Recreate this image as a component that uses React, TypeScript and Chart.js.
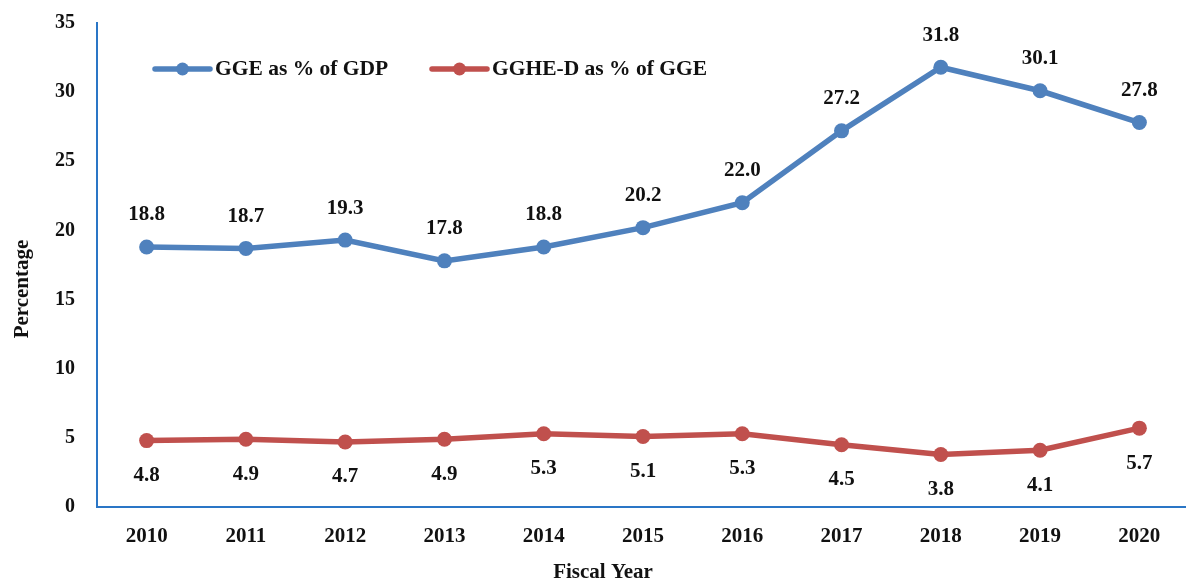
import React, { useEffect, useRef } from "react";
import { Chart, registerables } from "chart.js";

Chart.register(...registerables);

const years = ["2010", "2011", "2012", "2013", "2014", "2015", "2016", "2017", "2018", "2019", "2020"];
const ggeGdp = [18.8, 18.7, 19.3, 17.8, 18.8, 20.2, 22.0, 27.2, 31.8, 30.1, 27.8];
const gghedGge = [4.8, 4.9, 4.7, 4.9, 5.3, 5.1, 5.3, 4.5, 3.8, 4.1, 5.7];
const seriesNames = ["GGE as % of GDP", "GGHE-D as % of GGE"];
const seriesColors = ["#4f81bd", "#c0504d"];
const xTitle = "Fiscal Year";
const yTitle = "Percentage";

const FONT = '"Liberation Serif", "Times New Roman", serif';
const PLOT_RIGHT = 1189;

const extendPlugin = {
  id: "extendRight",
  afterLayout(chart: any) {
    const xs = chart.scales.x;
    xs.right = PLOT_RIGHT;
    xs.width = xs.right - xs.left;
    xs.configure();
    chart.chartArea.right = PLOT_RIGHT;
    chart.chartArea.width = PLOT_RIGHT - chart.chartArea.left;
  },
};

const labelPlugin = {
  id: "valueLabels",
  afterDatasetsDraw(chart: any) {
    const ctx = chart.ctx;
    ctx.save();
    ctx.font = `bold 21px ${FONT}`;
    ctx.fillStyle = "#111";
    ctx.textAlign = "center";
    ctx.textBaseline = "middle";
    chart.data.datasets.forEach((ds: any, di: number) => {
      const meta = chart.getDatasetMeta(di);
      meta.data.forEach((pt: any, i: number) => {
        const v = ds.data[i] as number;
        const dy = di === 0 ? -32 : 35;
        ctx.fillText(v.toFixed(1), pt.x, pt.y + dy);
      });
    });
    ctx.restore();
  },
};

const legendPlugin = {
  id: "customLegend",
  afterDraw(chart: any) {
    const ctx = chart.ctx;
    const starts = [155, 432];
    const y = 69;
    ctx.save();
    seriesNames.forEach((name, i) => {
      const x0 = starts[i];
      ctx.strokeStyle = seriesColors[i];
      ctx.lineWidth = 5.5;
      ctx.lineCap = "round";
      ctx.beginPath();
      ctx.moveTo(x0, y);
      ctx.lineTo(x0 + 55, y);
      ctx.stroke();
      ctx.fillStyle = seriesColors[i];
      ctx.beginPath();
      ctx.arc(x0 + 27.5, y, 6.5, 0, Math.PI * 2);
      ctx.fill();
      ctx.fillStyle = "#111";
      ctx.font = `bold 21.5px ${FONT}`;
      ctx.textAlign = "left";
      ctx.textBaseline = "middle";
      ctx.fillText(name, x0 + 60, y);
    });
    // axis titles
    ctx.font = `bold 21px ${FONT}`;
    ctx.textAlign = "center";
    ctx.textBaseline = "middle";
    ctx.fillText(xTitle, 603, 573);
    ctx.translate(23, 289);
    ctx.rotate(-Math.PI / 2);
    ctx.fillText(yTitle, 0, 0);
    ctx.restore();
  },
};

export default function App() {
  const ref = useRef<HTMLCanvasElement>(null);
  useEffect(() => {
    document.body.style.margin = "0";
    const canvas = ref.current!;
    const axisColor = "#2a76c6";
    const chart = new Chart(canvas, {
      type: "line",
      data: {
        labels: years,
        datasets: [
          {
            label: seriesNames[0],
            data: ggeGdp,
            borderColor: seriesColors[0],
            backgroundColor: seriesColors[0],
            borderWidth: 5.5,
            pointRadius: 7.5,
            pointBorderWidth: 0,
            pointBackgroundColor: seriesColors[0],
            tension: 0,
            clip: false,
          },
          {
            label: seriesNames[1],
            data: gghedGge,
            borderColor: seriesColors[1],
            backgroundColor: seriesColors[1],
            borderWidth: 5.5,
            pointRadius: 7.5,
            pointBorderWidth: 0,
            pointBackgroundColor: seriesColors[1],
            tension: 0,
            clip: false,
          },
        ],
      },
      options: {
        animation: false,
        responsive: false,
        maintainAspectRatio: false,
        layout: { autoPadding: false, padding: { top: 23, right: 0, left: 0, bottom: 0 } },
        plugins: {
          legend: { display: false },
          tooltip: { enabled: false },
        },
        scales: {
          x: {
            type: "category",
            offset: true,
            grid: { display: false, drawTicks: false },
            border: { display: true, color: axisColor, width: 2 },
            ticks: {
              color: "#111",
              font: { family: FONT, size: 21, weight: "bold" },
              padding: 17,
              maxRotation: 0,
              autoSkip: false,
            },
            title: { display: false },
            afterFit: (s: any) => {
              s.height = 75;
              s.paddingLeft = 0;
              s.paddingRight = 0;
            },
          },
          y: {
            min: 0,
            max: 35,
            grid: { display: false, drawTicks: false },
            border: { display: true, color: axisColor, width: 2 },
            ticks: {
              stepSize: 5,
              color: "#111",
              font: { family: FONT, size: 20, weight: "bold" },
              padding: 22,
            },
            title: { display: false },
            afterFit: (s: any) => {
              s.width = 97;
              s.paddingTop = 0;
              s.paddingBottom = 0;
            },
          },
        },
      },
      plugins: [extendPlugin, labelPlugin, legendPlugin],
    } as any);
    return () => chart.destroy();
  }, []);
  return <canvas ref={ref} width={1186} height={582} style={{ display: "block" }} />;
}
